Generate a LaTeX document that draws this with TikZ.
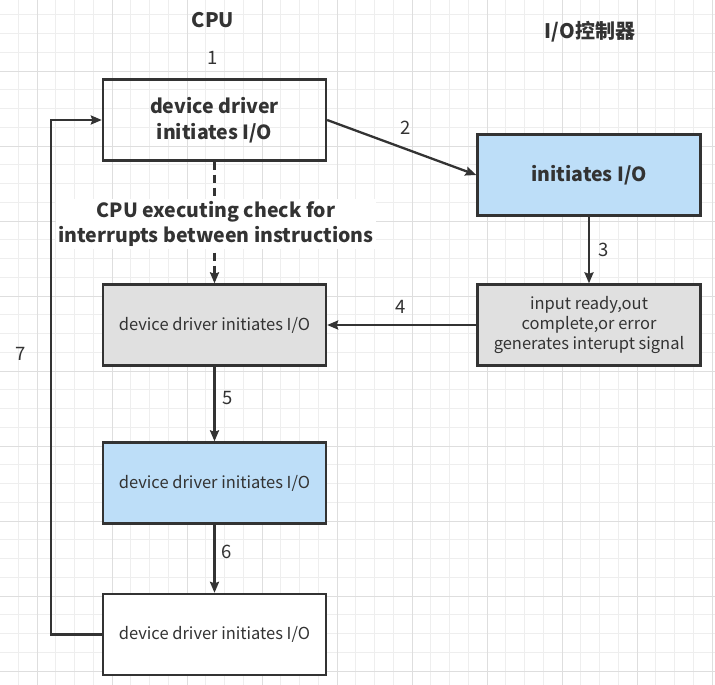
\documentclass[tikz,border=0pt]{standalone}
\usepackage{fontspec}
\setmainfont{Noto Sans CJK SC}
\usepackage{xcolor}
\usetikzlibrary{arrows.meta}
\definecolor{ink}{HTML}{333333}
\definecolor{lightblue}{RGB}{189,222,248}
\definecolor{lightgray}{RGB}{224,224,224}
\tikzset{>={Stealth[length=11pt,width=9pt,inset=1.5pt]}}
\tikzset{
  box/.style={draw=ink, line width=2.3pt, minimum width=223pt, minimum height=81pt,
    inner sep=2pt, align=center, text=ink, font=\fontsize{16.5}{20}\selectfont},
  bluebox/.style={box, fill=lightblue},
  graybox/.style={box, fill=lightgray},
  link/.style={draw=ink, line width=2.3pt, ->},
  num/.style={text=ink, font=\fontsize{18.5}{20}\selectfont},
  head/.style={text=ink, font=\fontsize{20}{24}\selectfont\bfseries},
  minorgrid/.style={draw={rgb,255:red,238;green,238;blue,238}, line width=0.6pt},
  majorgrid/.style={draw={rgb,255:red,222;green,222;blue,222}, line width=0.8pt}
}

\begin{document}
\begin{tikzpicture}[x=1pt,y=-1pt]
\useasboundingbox (0,0) rectangle (715,685);
\fill[white] (0,0) rectangle (715,685);
% grid
\foreach \i in {0,...,38} {
  \draw[minorgrid] ({-0.5+18.75*\i},0) -- ++(0,685);
  \draw[minorgrid] (0,{14.75+18.75*\i}) -- ++(715,0);
}
\foreach \i in {0,...,9} {
  \draw[majorgrid] ({37+75*\i},0) -- ++(0,685);
  \draw[majorgrid] (0,{-4+75*\i}) -- ++(715,0);
}

% headings
\node[head] (cpu) at (213,20) {CPU};
\node[head] (ctrl) at (590,32) {I/O控制器};

% boxes
\node[box, font=\fontsize{19.5}{26}\selectfont\bfseries] (start) at (214.5,120) {device driver\\initiates I/O};
\node[bluebox, font=\fontsize{19.5}{24}\selectfont\bfseries] (ioinit) at (589,175) {initiates I/O};
\node[graybox] (handler) at (214.5,325) {device driver initiates I/O};
\node[graybox, font=\fontsize{16.5}{20}\selectfont] (signal) at (589,325) {input ready,out\\complete,or error\\generates interupt signal};
\node[bluebox] (resume) at (214.5,483) {device driver initiates I/O};
\node[box, fill=white] (finish) at (214.5,634.5) {device driver initiates I/O};

% connectors
\draw[link] (start.east) -- (ioinit.west);
\draw[link, dash pattern=on 8pt off 5pt] (start.south) -- (handler.north);
\node[head, fill=white, align=center, inner sep=2pt, font=\fontsize{19.5}{25}\selectfont\bfseries]
  (check) at (216,224) {CPU executing check for\\interrupts between instructions};
\draw[link] (ioinit.south) -- (signal.north);
\draw[link] (signal.west) -- (handler.east);
\draw[link] (handler.south) -- (resume.north);
\draw[link] (resume.south) -- (finish.north);
\coordinate (corner) at (51,634.5);
\draw[link] (finish.west) -- (corner) |- (start.west);

% step numbers
\node[num] (n1) at (213,58) {1};
\node[num] (n2) at (406,128) {2};
\node[num] (n3) at (604,250) {3};
\node[num] (n4) at (401,307) {4};
\node[num] (n5) at (228,398) {5};
\node[num] (n6) at (227,552) {6};
\node[num] (n7) at (21,354) {7};
\end{tikzpicture}
\end{document}
